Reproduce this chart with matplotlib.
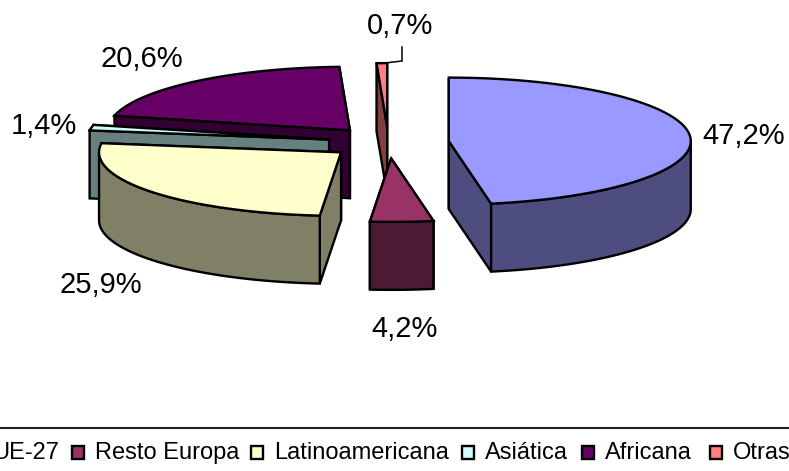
import numpy as np
import matplotlib
matplotlib.use("Agg")
import matplotlib.pyplot as plt
from matplotlib.patches import Polygon, Rectangle

plt.rcParams['font.family'] = ['Liberation Sans', 'DejaVu Sans']

# Data
categories = ["UE-27", "Resto Europa", "Latinoamericana", "Asiática", "Africana", "Otras"]
values = [47.2, 4.2, 25.9, 1.4, 20.6, 0.7]

# Colours: top of slice, side of slice
top_colors = ["#9999FF", "#993366", "#FFFFCC", "#CCFFFF", "#660066", "#FF8080"]
side_colors = ["#4D4D80", "#4D1A33", "#808066", "#668080", "#330033", "#804040"]

# Pie geometry in pixels
cx, cy = 388.5, 142.5
rx, ry = 242, 63.5
depth = 68
explode = 0.25
lw = 1.7

fig = plt.figure(figsize=(7.89, 4.71), dpi=100)
ax = fig.add_axes([0, 0, 1, 1])
ax.set_xlim(0, 789)
ax.set_ylim(471, 0)
ax.axis('off')


def rim(center, angles):
    # angles are clockwise from 12 o'clock, in degrees
    t = np.radians(angles)
    return np.column_stack([center[0] + rx * np.sin(t), center[1] - ry * np.cos(t)])


def extrude(points):
    # top outline followed by the same outline pushed down, reversed
    low = points[::-1] + [0, depth]
    return np.vstack([points, low])


def draw_slice(start, end, top, side, z):
    mid = (start + end) / 2
    t = np.radians(mid)
    center = np.array([cx + explode * rx * np.sin(t), cy - explode * ry * np.cos(t)])

    # radial walls, the one further back first
    walls = sorted([start, end], key=lambda a: rim(center, [a])[0][1])
    for a in walls:
        pts = np.vstack([center, rim(center, [a])])
        ax.add_patch(Polygon(extrude(pts), closed=True, fc=side, ec='black', lw=lw, zorder=z))

    # outer wall, only the part of the rim that faces the viewer
    a0, a1 = max(start, 90), min(end, 270)
    if a1 > a0:
        pts = rim(center, np.linspace(a0, a1, 80))
        ax.add_patch(Polygon(extrude(pts), closed=True, fc=side, ec='black', lw=lw, zorder=z))

    # top face
    arc = rim(center, np.linspace(start, end, 120))
    ax.add_patch(Polygon(np.vstack([center, arc]), closed=True, fc=top, ec='black', lw=lw, zorder=z))
    return center


# Slice angles from the values
edges = np.concatenate([[0], np.cumsum(values)]) / sum(values) * 360

# Painter's order, back to front
order = [5, 4, 3, 2, 1, 0]
for z, i in enumerate(order, start=2):
    draw_slice(edges[i], edges[i + 1], top_colors[i], side_colors[i], z)

# Value labels
label_pos = [(744, 136), (405, 329), (101, 285), (44, 126), (142, 59), (400, 26)]
for v, (x, y) in zip(values, label_pos):
    ax.text(x, y, f"{v:.1f}%".replace('.', ','), fontsize=21, ha='center', va='center', color='black', zorder=20)

# Leader line for the smallest slice
ax.plot([381, 402, 402], [63.5, 61, 47], color='black', lw=1.1, zorder=20, solid_joinstyle='miter')

# Legend, cut off at both sides like the original
ax.plot([0, 789], [428, 428], color='#222222', lw=1.5, clip_on=False)
legend_text_x = [59, 95, 274, 485, 605, 733]
legend_y = 453
for i, name in enumerate(categories):
    tx = legend_text_x[i]
    if i == 0:
        ax.text(tx, legend_y, name, fontsize=17, ha='right', va='center', color='black')
        continue
    ax.add_patch(Rectangle((tx - 23, legend_y - 7), 12.5, 12.5, fc=top_colors[i], ec='black', lw=1.7, zorder=5))
    ax.text(tx, legend_y, name, fontsize=17, ha='left', va='center', color='black')

fig.savefig("out.png", dpi=100, facecolor='white')
